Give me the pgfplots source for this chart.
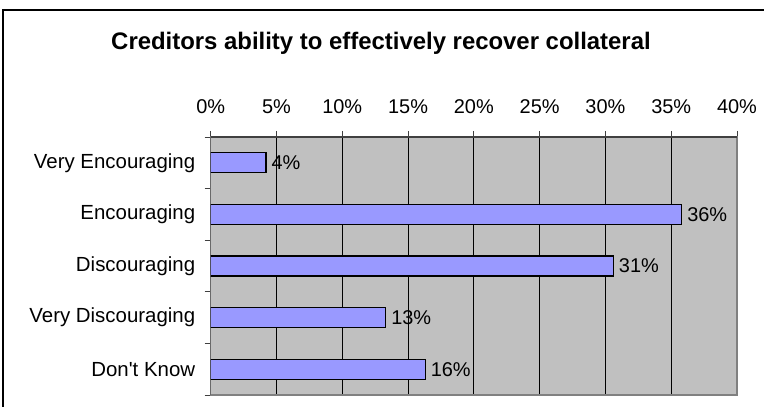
\documentclass[border=0pt]{standalone}
\usepackage{pgfplots}
\pgfplotsset{compat=1.18}
\usepackage{fontspec}
\setmainfont{Liberation Sans}
\definecolor{barfill}{HTML}{9999FF}
\definecolor{plotbg}{HTML}{C0C0C0}
\definecolor{bordergray}{HTML}{808080}
\definecolor{axdark}{HTML}{404040}
\pgfplotsset{/pgf/number format/assume math mode=true}
\begin{document}
\begin{tikzpicture}
\useasboundingbox (0,0) rectangle (764bp,407bp);
\fill[white] (0,0) rectangle (764bp,407bp);
\draw[line width=2bp] (3bp,-5bp) -- (3bp,397bp) -- (770bp,397bp);
\node[anchor=base, font=\bfseries\fontsize{24}{28}\selectfont] at (381bp,357bp) {Creditors ability to effectively recover collateral};
\begin{axis}[
  at={(210.7bp,12bp)}, anchor=south west,
  scale only axis, width=526.3bp, height=258bp,
  xbar, bar width=20bp,
  xmin=0, xmax=40, ymin=-0.5, ymax=4.5,
  xtick={0,5,...,40},
  xticklabels={0\%,5\%,10\%,15\%,20\%,25\%,30\%,35\%,40\%},
  xtick pos=upper, xticklabel pos=upper,
  ytick={-0.5,0.5,1.5,2.5,3.5,4.5}, yticklabels={,,,,,},
  ytick pos=left,
  extra y ticks={0,1,2,3,4},
  extra y tick labels={Don\textquotesingle t Know,Very Discouraging,Discouraging,Encouraging,Very Encouraging},
  extra y tick style={major tick length=0pt, yticklabel style={xshift=-12bp, font=\fontsize{20.5}{24}\selectfont}},
  tick align=outside, major tick length=6bp,
  xmajorgrids, grid style={black, line width=0.8bp},
  axis background/.style={fill=plotbg},
  axis line style={bordergray, line width=1.5bp},
  tick style={axdark, line width=0.8bp},
  ticklabel style={font=\fontsize{20}{24}\selectfont, text=black},
  xticklabel style={yshift=14bp},
  nodes near coords={\pgfmathprintnumber[fixed,precision=0]{\pgfplotspointmeta}\%},
  nodes near coords align=horizontal,
  every node near coord/.append style={font=\fontsize{20}{24}\selectfont, black, anchor=west, inner xsep=5bp},
]
\addplot[fill=barfill, draw=black, line width=1.2bp] coordinates {(16.3,0) (13.3,1) (30.6,2) (35.8,3) (4.2,4)};
\draw[axdark, line width=1.5bp] (rel axis cs:0,0) -- (rel axis cs:0,1) -- (rel axis cs:1,1);
\end{axis}
\end{tikzpicture}
\end{document}
